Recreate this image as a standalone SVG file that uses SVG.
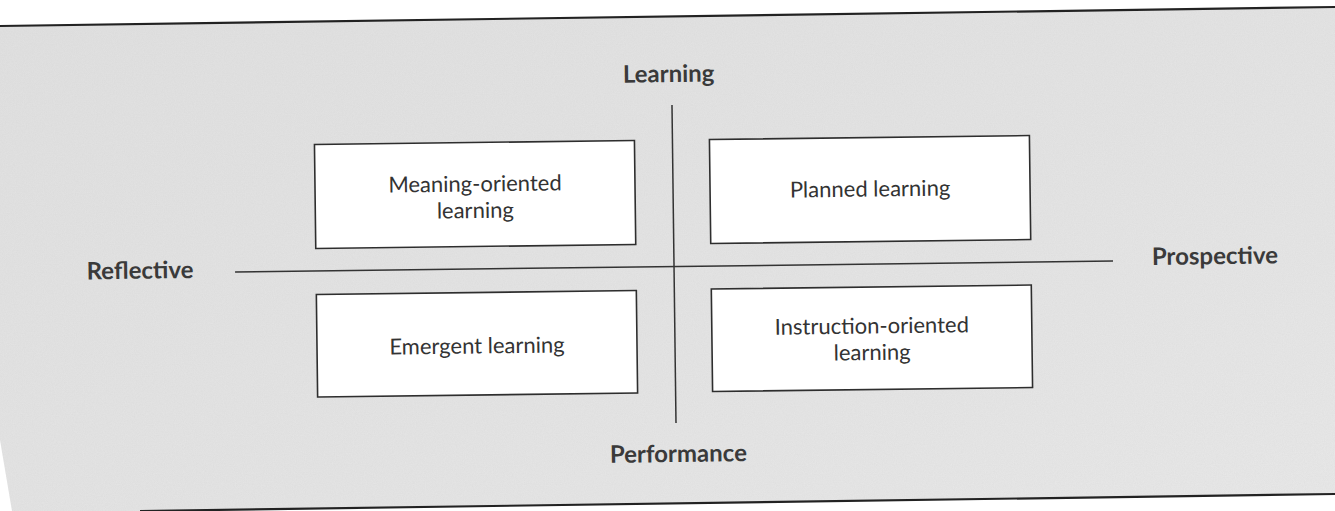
<svg xmlns="http://www.w3.org/2000/svg" width="1335" height="511" viewBox="0 0 1335 511">
  <defs>
    <style>
      .node rect { fill: #ffffff; stroke: #2e2e2e; stroke-width: 1.6; }
      .node text { font-family: Lato, "Open Sans", "Liberation Sans", sans-serif; font-size: 22px; fill: #333333; text-anchor: middle; }
      .axis-label { font-family: Lato, "Open Sans", "Liberation Sans", sans-serif; font-size: 24px; font-weight: bold; fill: #3a3a3a; text-anchor: middle; }
      .axis { stroke: #333333; stroke-width: 1.5; fill: none; }
      .edge { stroke: #222222; stroke-width: 2.2; fill: none; }
    </style>
    <linearGradient id="paper" x1="0" y1="0" x2="1" y2="1">
      <stop offset="0" stop-color="#e1e1e1"/>
      <stop offset="0.6" stop-color="#e5e5e5"/>
      <stop offset="1" stop-color="#e9e9e9"/>
    </linearGradient>
    <filter id="grain" x="0" y="0" width="100%" height="100%">
      <feTurbulence type="fractalNoise" baseFrequency="0.9" numOctaves="2" seed="4" result="n"/>
      <feColorMatrix in="n" type="matrix" values="0 0 0 0 0.5  0 0 0 0 0.5  0 0 0 0 0.5  0 0 0 0.18 0"/>
      <feComposite in2="SourceGraphic" operator="in"/>
    </filter>
  </defs>

  <!-- page: white margins, grey printed area between the two rules -->
  <rect x="0" y="0" width="1335" height="511" fill="#ffffff"/>
  <path id="sheet" d="M0,26 L1335,7 L1335,494 L140,511 L12,511 L0,440 Z" fill="url(#paper)"/>
  <path d="M0,26 L1335,7 L1335,494 L140,511 L12,511 L0,440 Z" fill="#000" filter="url(#grain)"/>
  <path class="edge" d="M0,26 L1335,7"/>
  <path class="edge" d="M140,511 L1335,494"/>

  <g id="chart" transform="rotate(-0.72 675 265)">
    <!-- axes -->
    <g id="connectors">
      <line class="axis" x1="674" y1="105" x2="674" y2="423"/>
      <line class="axis" x1="235" y1="266.5" x2="1113" y2="266.5"/>
    </g>

    <!-- axis labels -->
    <text class="axis-label" x="671" y="82">Learning</text>
    <text class="axis-label" x="676" y="462">Performance</text>
    <text class="axis-label" x="140" y="272">Reflective</text>
    <text class="axis-label" x="1215" y="271">Prospective</text>

    <!-- quadrants -->
    <g id="meaning-oriented" class="node">
      <rect x="316" y="140" width="320" height="104"/>
      <text x="476" y="189">Meaning-oriented</text>
      <text x="476" y="215.5">learning</text>
    </g>
    <g id="planned" class="node">
      <rect x="711" y="140" width="320" height="104"/>
      <text x="871" y="199">Planned learning</text>
    </g>
    <g id="emergent" class="node">
      <rect x="316" y="290" width="320" height="102.5"/>
      <text x="476" y="351">Emergent learning</text>
    </g>
    <g id="instruction-oriented" class="node">
      <rect x="711" y="289.5" width="320" height="102.5"/>
      <text x="871" y="336">Instruction-oriented</text>
      <text x="871" y="362.5">learning</text>
    </g>
  </g>
</svg>
